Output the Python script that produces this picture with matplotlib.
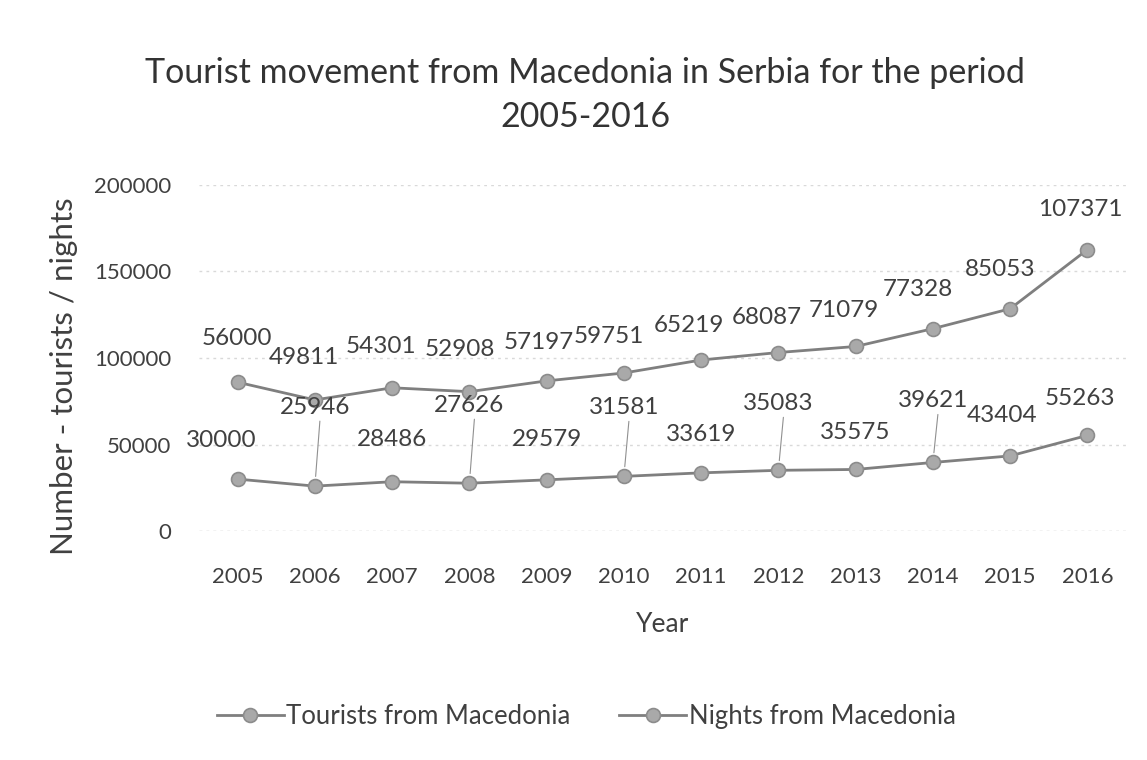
import matplotlib.pyplot as plt
import numpy as np

# data (stacked line: nights drawn on top of tourists)
years = ["2005", "2006", "2007", "2008", "2009", "2010",
         "2011", "2012", "2013", "2014", "2015", "2016"]
tourists = [30000, 25946, 28486, 27626, 29579, 31581,
            33619, 35083, 35575, 39621, 43404, 55263]
nights = [56000, 49811, 54301, 52908, 57197, 59751,
          65219, 68087, 71079, 77328, 85053, 107371]

# label offsets in pixels (dx, dy) -- Excel placed some with leader lines
tour_offsets = [(-16, 39), (0, 79), (0, 42), (0, 78), (0, 40), (0, 69),
                (0, 38), (0, 67), (0, 37), (0, 62), (-8, 40), (-7, 37)]
tour_leader = [False, True, False, True, False, True,
               False, True, False, True, False, False]
night_offsets = [(-1, 44), (-11, 42), (-11, 41), (-10, 42), (-8, 38), (-15, 36),
                 (-12, 35), (-12, 35), (-12, 36), (-15, 39), (-10, 39), (-7, 40)]

plt.rcParams['font.family'] = ['Lato', 'DejaVu Sans']

LINE = "#7f7f7f"
TEXT = "#404040"

fig = plt.figure(figsize=(11.47, 7.6), dpi=100)
ax = fig.add_axes([0.1735, 0.3013, 0.8082, 0.4553])

x = np.arange(len(years))
t = np.array(tourists)
n_stack = t + np.array(nights)

for yv, lab in [(t, "Tourists from Macedonia"), (n_stack, "Nights from Macedonia")]:
    ax.plot(x, yv, color=LINE, lw=2.0, marker="o", ms=10,
            markerfacecolor="#a9a9a9", markeredgecolor="#8c8c8c",
            markeredgewidth=1.2, label=lab, zorder=3)

# data labels
for i in range(len(years)):
    dx, dy = tour_offsets[i]
    ax.annotate(str(tourists[i]), (x[i], t[i]), xytext=(dx, dy),
                textcoords="offset pixels", ha="center", va="center",
                fontsize=17.5, color=TEXT)
    if tour_leader[i]:
        ax.annotate("", (x[i], t[i]), xytext=(dx + 5, dy - 14),
                    textcoords="offset pixels",
                    arrowprops=dict(arrowstyle="-", color="#909090", lw=0.8,
                                    shrinkA=0, shrinkB=7))
    dx, dy = night_offsets[i]
    ax.annotate(str(nights[i]), (x[i], n_stack[i]), xytext=(dx, dy),
                textcoords="offset pixels", ha="center", va="center",
                fontsize=17.5, color=TEXT)

ax.set_xlim(-0.5, len(years) - 0.5)
ax.set_ylim(0, 200000)
ax.set_yticks([0, 50000, 100000, 150000, 200000])
ax.set_yticklabels(["0", "50000", "100000", "150000", "200000"])
ax.set_xticks(x)
ax.set_xticklabels(years)
ax.tick_params(axis="both", length=0, labelsize=16, labelcolor=TEXT)
ax.tick_params(axis="y", pad=20)
ax.tick_params(axis="x", pad=26)

ax.grid(axis="y", color="#d9d9d9", lw=1, ls=(0, (2, 3)))
for s in ax.spines.values():
    s.set_visible(False)
ax.axhline(0, color="#e0e0e0", lw=1, ls=(0, (2, 3)))

ax.set_xlabel("Year", fontsize=19, color=TEXT, labelpad=18)
fig.text(64 / 1147, 1 - 376 / 760, "Number - tourists / nights", rotation=90,
         ha="center", va="center", fontsize=22.5, color=TEXT)

fig.text(0.51, 0.875, "Tourist movement from Macedonia in Serbia for the period\n2005-2016",
         ha="center", va="center", fontsize=24.5, color="#333333", linespacing=1.45)

fig.legend(loc="center", bbox_to_anchor=(0.511, 0.057), ncol=2, frameon=False,
           fontsize=18.5, handlelength=2.6, handletextpad=0.1, columnspacing=1.9,
           labelcolor=TEXT)

fig.savefig("out.png", dpi=100, facecolor="white")
